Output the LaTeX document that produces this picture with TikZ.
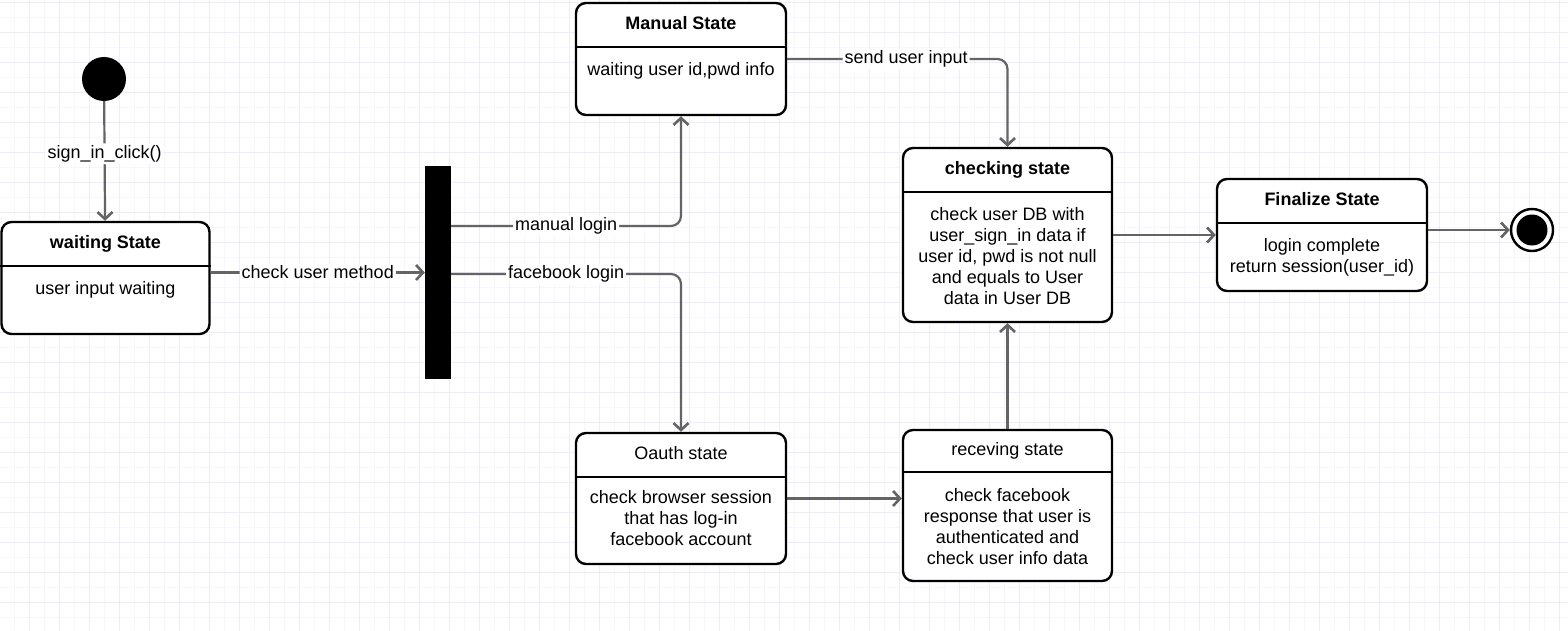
\documentclass[tikz,border=0pt]{standalone}
\usepackage{fontspec}
\setmainfont{Liberation Sans}
\usetikzlibrary{arrows.meta,calc,positioning}
\definecolor{gridlo}{RGB}{246,246,254}
\definecolor{gridhi}{RGB}{236,236,252}
\definecolor{wire}{RGB}{100,100,100}
\newcommand{\diafont}{\fontsize{18}{21}\selectfont}
\tikzset{
  statebox/.style={draw,line width=2.4pt,rounded corners=10pt,fill=white,inner sep=0pt,minimum width=210pt},
  divider/.style={line width=2.4pt},
  wirearrow/.style={draw=wire,line width=2.2pt,rounded corners=10pt,-{Straight Barb[length=7pt,width=15pt,line width=2.6pt]}},
  wirelabel/.style={fill=white,inner sep=2pt,text=black},
  titletxt/.style={anchor=base,font=\diafont\bfseries},
  plaintitle/.style={anchor=base},
  bodytxt/.style={anchor=north,align=center,inner sep=0pt},
}

\begin{document}
\begin{tikzpicture}[x=1pt,y=-1pt,font=\diafont]
    \fill[white] (0,0) rectangle (1568,631);
    \useasboundingbox (0,0) rectangle (1568,631);
    % background grid
    \foreach \gx in {-0.5,14.5,...,1568} \draw[gridlo,line width=1pt] (\gx,0) -- (\gx,631);
    \foreach \gy in {2.5,17.5,...,631} \draw[gridlo,line width=1pt] (0,\gy) -- (1568,\gy);
    \foreach \gx in {29.5,59.5,...,1568} \draw[gridhi,line width=1pt] (\gx,0) -- (\gx,631);
    \foreach \gy in {2.5,32.5,...,631} \draw[gridhi,line width=1pt] (0,\gy) -- (1568,\gy);

    % pseudo states
    \node[circle,fill=black,minimum size=44pt,inner sep=0pt] (init) at (104,79) {};
    \node[fill=black,minimum width=26pt,minimum height=213pt,inner sep=0pt] (fork) at (438,272.5) {};
    \node[circle,draw,line width=2.4pt,fill=white,minimum size=42pt,inner sep=0pt] (endst) at (1532,230) {};
    \node[circle,fill=black,minimum size=31pt,inner sep=0pt] (endcore) at (endst) {};

    % waiting
    \node[statebox,minimum width=208pt,minimum height=112pt] (wait) at (105.5,278) {};
    \draw[divider] ($(wait.north west)+(0,45)$) -- ($(wait.north east)+(0,45)$);
    \node[titletxt] (waitT) at ($(wait.north)+(0,28)$) {waiting State};
    \node[bodytxt] (waitB) at ($(wait.north)+(0,60)$) {user input waiting};

    % manual
    \node[statebox,minimum height=112pt] (manual) at (681,59) {};
    \draw[divider] ($(manual.north west)+(0,45)$) -- ($(manual.north east)+(0,45)$);
    \node[titletxt] (manualT) at ($(manual.north)+(0,28)$) {Manual State};
    \node[bodytxt] (manualB) at ($(manual.north)+(0,60)$) {waiting user id,pwd info};

    % checking
    \node[statebox,minimum width=209pt,minimum height=174pt] (check) at (1007.5,235) {};
    \draw[divider] ($(check.north west)+(0,45)$) -- ($(check.north east)+(0,45)$);
    \node[titletxt] (checkT) at ($(check.north)+(0,28)$) {checking state};
    \node[bodytxt] (checkB) at ($(check.north)+(0,60)$) {check user DB with\\user\_sign\_in data if\\user id, pwd is not null\\and equals to User\\data in User DB};

    % finalize
    \node[statebox,minimum height=112pt] (final) at (1322,235) {};
    \draw[divider] ($(final.north west)+(0,45)$) -- ($(final.north east)+(0,45)$);
    \node[titletxt] (finalT) at ($(final.north)+(0,28)$) {Finalize State};
    \node[bodytxt] (finalB) at ($(final.north)+(0,60)$) {login complete\\return session(user\_id)};

    % oauth
    \node[statebox,minimum height=131pt] (oauth) at (681,498.5) {};
    \draw[divider] ($(oauth.north west)+(0,45)$) -- ($(oauth.north east)+(0,45)$);
    \node[plaintitle] (oauthT) at ($(oauth.north)+(0,28)$) {Oauth state};
    \node[bodytxt] (oauthB) at ($(oauth.north)+(0,58)$) {check browser session\\that has log-in\\facebook account};

    % receiving
    \node[statebox,minimum width=209pt,minimum height=151pt] (recv) at (1007.5,505.5) {};
    \draw[divider] ($(recv.north west)+(0,43)$) -- ($(recv.north east)+(0,43)$);
    \node[plaintitle] (recvT) at ($(recv.north)+(0,27)$) {receving state};
    \node[bodytxt] (recvB) at ($(recv.north)+(0,59)$) {check facebook\\response that user is\\authenticated and\\check user info data};

    % transitions
    \draw[wirearrow] (init) -- node[wirelabel,pos=0.44]{sign\_in\_click()} (wait);
    \draw[wirearrow] (wait.east |- fork) -- node[wirelabel]{check user method} (fork.west);
    \draw[wirearrow] ([yshift=46.5pt]fork.east) -| node[wirelabel,pos=0.25]{manual login} (manual.south);
    \draw[wirearrow] ([yshift=-1.5pt]fork.east) -| node[wirelabel,pos=0.25]{facebook login} (oauth.north);
    \draw[wirearrow] (manual.east) -| node[wirelabel,pos=0.27]{send user input} (check.north);
    \draw[wirearrow] (check.east) -- (final.west);
    \draw[wirearrow] (final.east |- endst) -- (endst.west);
    \draw[wirearrow] (oauth.east) -- (oauth.east -| recv.west);
    \draw[wirearrow] (recv.north) -- (check.south);
\end{tikzpicture}
\end{document}
